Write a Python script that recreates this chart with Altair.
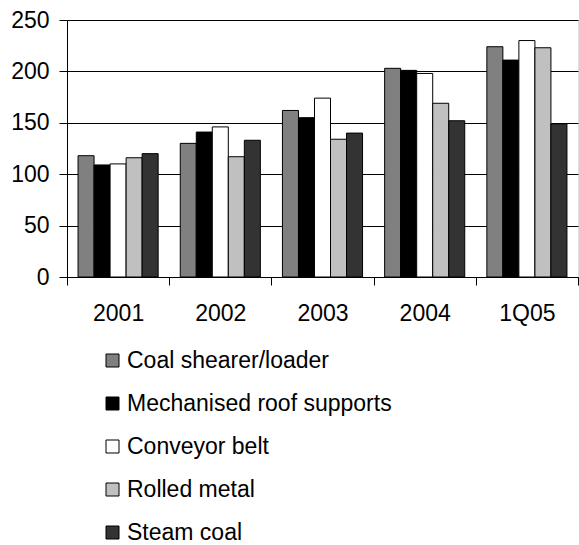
import altair as alt
import pandas as pd

# Price index by equipment/commodity type, per year
periods = ["2001", "2002", "2003", "2004", "1Q05"]
series = [
    "Coal shearer/loader",
    "Mechanised roof supports",
    "Conveyor belt",
    "Rolled metal",
    "Steam coal",
]
coal_shearer = [118, 130, 162, 203, 224]
roof_supports = [109, 141, 155, 201, 211]
conveyor_belt = [110, 146, 174, 198, 230]
rolled_metal = [116, 117, 134, 169, 223]
steam_coal = [120, 133, 140, 152, 149]
colors = ["#808080", "#000000", "#ffffff", "#c0c0c0", "#333333"]

values = [coal_shearer, roof_supports, conveyor_belt, rolled_metal, steam_coal]
rows = []
for name, vals in zip(series, values):
    for p, v in zip(periods, vals):
        rows.append({"period": p, "series": name, "value": v})
df = pd.DataFrame(rows)

font = "Liberation Sans"
fsize = 23

chart = (
    alt.Chart(df)
    .mark_bar(stroke="black", strokeWidth=1)
    .encode(
        x=alt.X(
            "period:N",
            sort=periods,
            title=None,
            scale=alt.Scale(paddingInner=0, paddingOuter=0),
            axis=alt.Axis(
                labelAngle=0,
                tickBand="extent",
                tickSize=8,
                tickColor="black",
                domainColor="black",
                labelFontSize=fsize,
                labelFont=font,
                labelColor="black",
                labelPadding=17,
                grid=False,
            ),
        ),
        xOffset=alt.XOffset(
            "series:N",
            sort=series,
            scale=alt.Scale(paddingInner=0, paddingOuter=0.69),
        ),
        y=alt.Y(
            "value:Q",
            title=None,
            scale=alt.Scale(domain=[0, 250], nice=False),
            axis=alt.Axis(
                values=[0, 50, 100, 150, 200, 250],
                tickSize=8,
                tickColor="black",
                domainColor="black",
                gridColor="black",
                gridOpacity=1,
                labelFontSize=fsize,
                labelFont=font,
                labelColor="black",
                labelPadding=10,
            ),
        ),
        fill=alt.Fill(
            "series:N",
            sort=series,
            scale=alt.Scale(domain=series, range=colors),
            legend=alt.Legend(
                title=None,
                orient="none",
                legendX=34,
                legendY=329,
                direction="vertical",
                symbolType="square",
                symbolSize=169,
                symbolStrokeColor="black",
                symbolStrokeWidth=1,
                labelFontSize=fsize,
                labelFont=font,
                labelColor="black",
                labelLimit=0,
                labelOffset=3,
                rowPadding=19,
                padding=0,
            ),
        ),
    )
    .properties(
        width=511,
        height=257,
        autosize=alt.AutoSizeParams(type="none"),
        padding={"left": 67, "top": 20, "right": 1, "bottom": 268},
    )
    .configure_view(stroke=None)
    .configure(background="white")
)

chart.save("out.html", embed_options={"renderer": "svg", "actions": False})
